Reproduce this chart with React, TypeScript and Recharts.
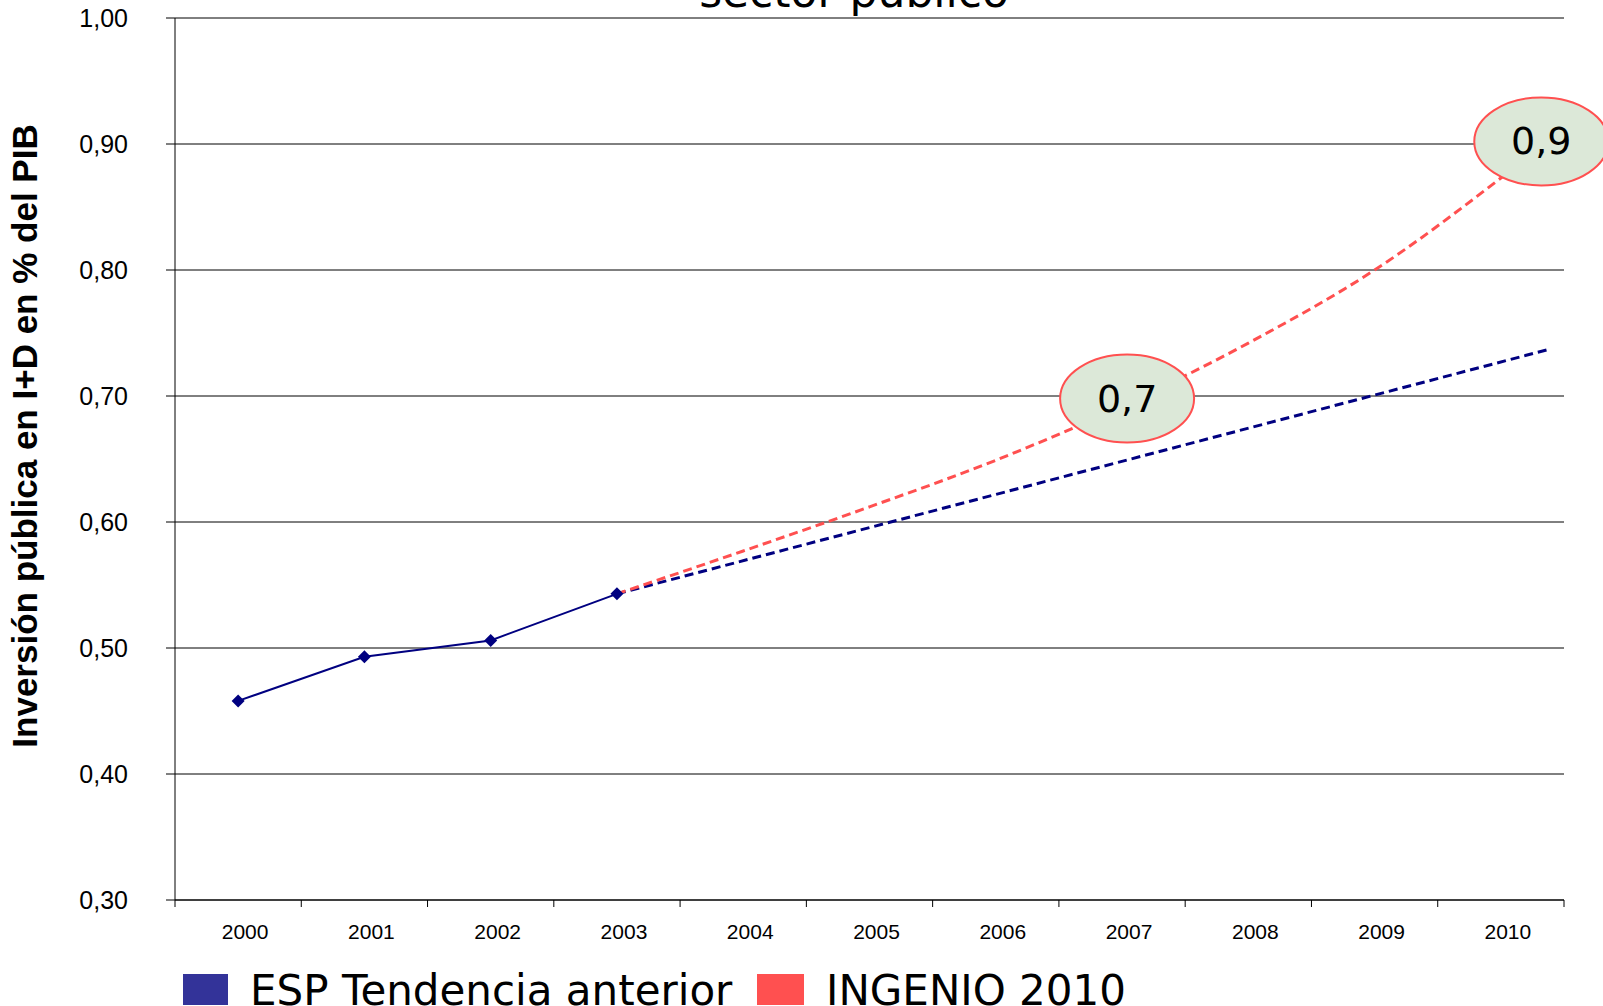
import { LineChart, Line, XAxis, YAxis, CartesianGrid, ReferenceDot } from "recharts";

const actualYears = [2000, 2001, 2002, 2003];
const actualValues = [0.458, 0.493, 0.506, 0.543];

const trendYears = [2003, 2010.38];
const trendValues = [0.543, 0.737];

const ingenioYears = [2003, 2004, 2005, 2006, 2007, 2008, 2009, 2010, 2010.38];
const ingenioValues = [0.543, 0.577, 0.612, 0.649, 0.692, 0.742, 0.8, 0.873, 0.903];

const calloutYears = [2007.04, 2010.32];
const calloutValues = [0.698, 0.902];
const calloutLabels = ["0,7", "0,9"];

const yTicks = [0.3, 0.4, 0.5, 0.6, 0.7, 0.8, 0.9, 1.0];
const xBoundaries = [1999.5, 2000.5, 2001.5, 2002.5, 2003.5, 2004.5, 2005.5, 2006.5, 2007.5, 2008.5, 2009.5, 2010.5];

const seriesNames = ["ESP Tendencia anterior", "INGENIO 2010"];
const legendColors = ["#333399", "#FF5050"];

const actualData = actualYears.map((year, i) => ({ year, value: actualValues[i] }));
const trendData = trendYears.map((year, i) => ({ year, value: trendValues[i] }));
const ingenioData = ingenioYears.map((year, i) => ({ year, value: ingenioValues[i] }));

const NAVY = "#000080";
const RED = "#FF5050";
const gothic = "'DejaVu Sans', sans-serif";
const arial = "'Liberation Sans', Arial, sans-serif";

// half a category, so the year sits between two tick marks
const HALF_CAT = (1564 - 175) / 22;

const YearTick = ({ x, y, payload }: any) => {
  const v = payload.value;
  if (v > 2010) return null;
  return (
    <text x={x + HALF_CAT + 7} y={y} dy={30} textAnchor="middle" fontSize={21} fontFamily={arial} fill="#000">
      {Math.round(v + 0.5)}
    </text>
  );
};

const Diamond = ({ cx, cy }: any) => {
  if (cx == null || cy == null) return null;
  const r = 6.5;
  return <polygon points={`${cx},${cy - r} ${cx + r},${cy} ${cx},${cy + r} ${cx - r},${cy}`} fill={NAVY} />;
};

const Callout = (label: string) => ({ cx, cy }: any) => (
  <g>
    <ellipse cx={cx} cy={cy} rx={67} ry={44} fill="#DCE8D8" stroke={RED} strokeWidth={2} />
    <text x={cx} y={cy} dy={13} textAnchor="middle" fontSize={38} fontFamily={gothic} fill="#000">
      {label}
    </text>
  </g>
);

const App = () => {
  return (
    <div style={{ position: "absolute", left: 0, top: 0, width: 1603, height: 1006, background: "#fff", overflow: "hidden" }}>
      <LineChart width={1603} height={1006} margin={{ top: 18, right: 39, bottom: 70, left: 0 }}>
        <CartesianGrid vertical={false} stroke="#000" strokeWidth={1} />
        <XAxis
          type="number"
          dataKey="year"
          domain={[1999.5, 2010.5]}
          ticks={xBoundaries}
          allowDataOverflow
          interval={0}
          height={36}
          tickSize={7}
          tick={<YearTick />}
          axisLine={{ stroke: "#000" }}
          tickLine={{ stroke: "#000" }}
        />
        <YAxis
          type="number"
          domain={[0.3, 1.0]}
          ticks={yTicks}
          interval={0}
          width={175}
          tickSize={9}
          tickMargin={38}
          tickFormatter={(v: number) => v.toFixed(2).replace(".", ",")}
          tick={{ fontSize: 25, fontFamily: arial, fill: "#000" }}
          axisLine={{ stroke: "#000" }}
          tickLine={{ stroke: "#000" }}
        />
        <Line
          data={trendData}
          dataKey="value"
          type="linear"
          stroke={NAVY}
          strokeWidth={3}
          strokeDasharray="9 5"
          dot={false}
          isAnimationActive={false}
        />
        <Line
          data={ingenioData}
          dataKey="value"
          type="monotone"
          stroke={RED}
          strokeWidth={3}
          strokeDasharray="9 5"
          dot={false}
          isAnimationActive={false}
        />
        <Line
          data={actualData}
          dataKey="value"
          type="linear"
          stroke={NAVY}
          strokeWidth={2}
          dot={<Diamond />}
          activeDot={false}
          isAnimationActive={false}
        />
        {calloutYears.map((yr, i) => (
          <ReferenceDot key={i} x={yr} y={calloutValues[i]} ifOverflow="visible" shape={Callout(calloutLabels[i])} />
        ))}
      </LineChart>
      <svg width={1603} height={1006} style={{ position: "absolute", left: 0, top: 0, pointerEvents: "none" }}>
        <text x={854} y={7} textAnchor="middle" fontSize={44} fontFamily={gothic} fill="#000">
          sector público
        </text>
        <text
          x={37}
          y={436}
          transform="rotate(-90, 37, 436)"
          textAnchor="middle"
          fontSize={35}
          fontWeight="bold"
          fontFamily={arial}
          fill="#000"
        >
          Inversión pública en I+D en % del PIB
        </text>
        <rect x={183} y={974} width={45} height={31} fill={legendColors[0]} />
        <text x={250} y={1005} fontSize={42} fontFamily={gothic} fill="#000">
          {seriesNames[0]}
        </text>
        <rect x={757} y={974} width={47} height={31} fill={legendColors[1]} />
        <text x={826} y={1005} fontSize={42} fontFamily={gothic} fill="#000">
          {seriesNames[1]}
        </text>
      </svg>
    </div>
  );
};

export default App;
